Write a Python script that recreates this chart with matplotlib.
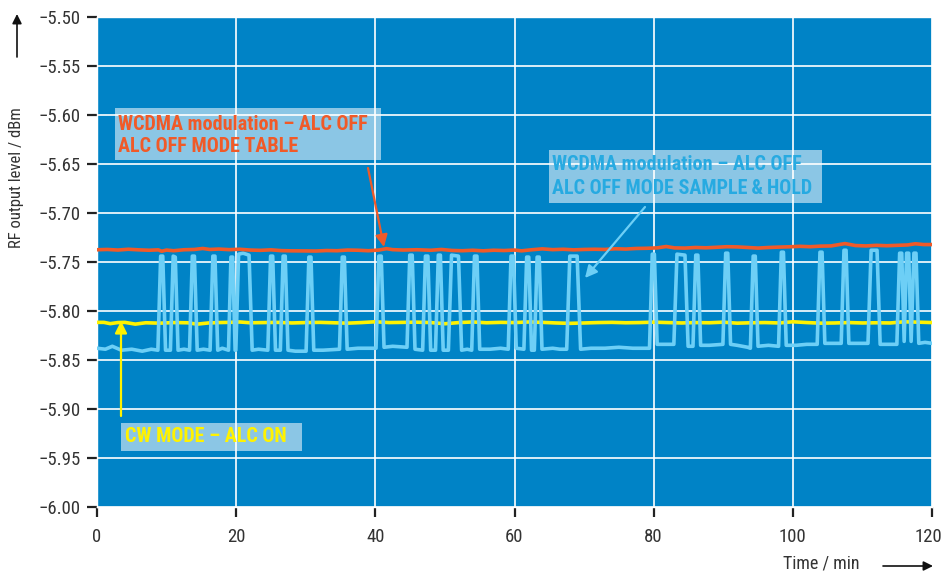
import matplotlib
matplotlib.use("Agg")
import matplotlib.pyplot as plt
from matplotlib import font_manager as fm
from matplotlib.patches import Rectangle
from matplotlib.transforms import ScaledTranslation

# ---------------- data ----------------
x_ticks = [0, 20, 40, 60, 80, 100, 120]
y_ticks = [-5.50, -5.55, -5.60, -5.65, -5.70, -5.75, -5.80, -5.85, -5.90, -5.95, -6.00]
y_ticklabels = ["\u22125.50", "\u22125.55", "\u22125.60", "\u22125.65", "\u22125.70", "\u22125.75",
                "\u22125.80", "\u22125.85", "\u22125.90", "\u22125.95", "\u22126.00"]

orange_t = [0, 1.5, 3, 4.5, 6, 7.5, 8.8, 9.3, 10, 11, 12.5, 14, 15.2, 16.2, 17.5, 19, 20.5, 22,
            23.5, 25, 26.5, 28, 30, 31.5, 33, 34.5, 36, 37.5, 39, 40.5, 41.6, 42.5, 44, 46, 48,
            49.5, 51, 52.5, 54, 55.5, 57, 58.5, 60, 61, 62.5, 64, 65.5, 67, 68.5, 70, 71.5, 73,
            74.5, 76, 77.5, 79, 80.5, 81.8, 83, 84.5, 86, 87.5, 89, 90.5, 92, 93.5, 95, 96.5,
            98, 99.5, 101, 102.5, 104, 105.5, 107.5, 109, 110.5, 112, 113.5, 115, 116.5, 117.6,
            118.8, 120]
orange_v = [-5.7375, -5.7372, -5.7378, -5.7370, -5.7376, -5.7380, -5.7376, -5.7390, -5.7378,
            -5.7385, -5.7375, -5.7372, -5.7362, -5.7372, -5.7368, -5.7374, -5.7370, -5.7378,
            -5.7381, -5.7376, -5.7384, -5.7386, -5.7387, -5.7388, -5.7383, -5.7385, -5.7378,
            -5.7380, -5.7385, -5.7378, -5.7364, -5.7374, -5.7378, -5.7375, -5.7380, -5.7372,
            -5.7382, -5.7385, -5.7380, -5.7386, -5.7380, -5.7383, -5.7378, -5.7386, -5.7375,
            -5.7366, -5.7374, -5.7370, -5.7376, -5.7372, -5.7370, -5.7372, -5.7365, -5.7368,
            -5.7362, -5.7360, -5.7356, -5.7342, -5.7356, -5.7358, -5.7352, -5.7355, -5.7350,
            -5.7344, -5.7346, -5.7352, -5.7358, -5.7352, -5.7348, -5.7345, -5.7340, -5.7344,
            -5.7338, -5.7336, -5.7312, -5.7332, -5.7336, -5.7330, -5.7334, -5.7330, -5.7326,
            -5.7314, -5.7322, -5.7322]

yellow_t = [0, 1, 1.9, 3, 4, 5.5, 7, 9, 11, 13, 14.4, 16, 17.5, 19, 20.5, 22, 24, 26, 28, 30,
            32, 34, 36, 38, 40, 42, 44, 46, 48, 50, 52, 54, 56, 58, 60, 62, 64, 66, 68, 70, 72,
            74, 76, 78, 80, 82, 84, 86, 88, 90, 92, 94, 96, 98, 100, 102, 104, 106, 108, 110,
            112, 114, 116, 118, 120]
yellow_v = [-5.8116, -5.8116, -5.8129, -5.8118, -5.8116, -5.8134, -5.8120, -5.8124, -5.8118,
            -5.8120, -5.8134, -5.8122, -5.8118, -5.8116, -5.8112, -5.8120, -5.8118, -5.8116,
            -5.8122, -5.8118, -5.8116, -5.8120, -5.8124, -5.8118, -5.8110, -5.8118, -5.8116,
            -5.8114, -5.8118, -5.8130, -5.8118, -5.8112, -5.8120, -5.8116, -5.8118, -5.8112,
            -5.8116, -5.8122, -5.8126, -5.8122, -5.8118, -5.8116, -5.8120, -5.8118, -5.8114,
            -5.8118, -5.8122, -5.8118, -5.8120, -5.8114, -5.8124, -5.8120, -5.8118, -5.8122,
            -5.8110, -5.8118, -5.8124, -5.8122, -5.8118, -5.8122, -5.8120, -5.8122, -5.8110,
            -5.8114, -5.8118]

blue_t = [0, 1.2, 2.2, 3.5, 5, 6.5, 7.8, 8.75,
          9.15, 9.45, 9.85, 10.55, 10.95, 11.25, 11.65, 12.5, 13.3, 13.7, 14.0, 14.4,
          15.3, 16.25, 16.65, 16.95, 17.35, 18.0, 18.9, 19.25, 19.5, 19.85,
          19.95, 20.35, 21.0, 21.85, 22.3, 23.2, 24.55, 24.95, 25.25, 25.65,
          26.35, 26.75, 27.05, 27.45, 28.5, 30.05, 30.45, 30.75, 31.15,
          32.5, 34.85, 35.25, 35.55, 35.95, 37.5, 40.1, 40.5, 40.85, 41.25,
          42.5, 44.55, 44.95, 45.3, 45.7, 46.8, 47.2, 47.55, 47.95,
          48.65, 49.05, 49.35, 49.75, 50.5, 50.95, 51.95, 52.4,
          53.2, 53.85, 54.25, 54.6, 55.0, 56.5, 58, 59.1, 59.5, 59.85, 60.25,
          61.35, 61.75, 62.05, 62.45, 62.85, 63.25, 63.55, 63.95,
          65.5, 66.5, 67.5, 67.95, 69.0, 69.5, 71, 73, 75, 77, 79.4, 79.8, 80.1, 80.5,
          81.5, 82.9, 83.35, 84.5, 84.95, 85.65, 86.05, 86.35, 86.75,
          88, 89.95, 90.35, 90.65, 91.05, 92, 93.5, 93.9, 94.3, 94.6, 95.0,
          96.5, 97.95, 98.35, 98.65, 99.05, 100.5, 102, 103.5, 103.9, 104.2, 104.6,
          106, 106.95, 107.35, 107.65, 108.05, 109.5, 110.8, 111.25, 112.1, 112.55,
          114, 114.95, 115.35, 115.65, 116.0, 116.35, 116.65, 117.0, 117.4, 117.7, 118.1,
          119, 120]
blue_v = [-5.838, -5.839, -5.836, -5.840, -5.839, -5.841, -5.839, -5.840,
          -5.744, -5.744, -5.840, -5.840, -5.744, -5.745, -5.840, -5.839, -5.840, -5.744, -5.744, -5.840,
          -5.839, -5.840, -5.744, -5.744, -5.840, -5.838, -5.840, -5.745, -5.745, -5.840,
          -5.840, -5.742, -5.741, -5.743, -5.840, -5.839, -5.840, -5.744, -5.744, -5.840,
          -5.840, -5.744, -5.744, -5.840, -5.841, -5.841, -5.745, -5.745, -5.840,
          -5.840, -5.839, -5.745, -5.745, -5.839, -5.838, -5.838, -5.744, -5.744, -5.837,
          -5.836, -5.837, -5.743, -5.743, -5.839, -5.840, -5.744, -5.744, -5.840,
          -5.840, -5.743, -5.743, -5.840, -5.840, -5.743, -5.744, -5.840,
          -5.839, -5.840, -5.744, -5.744, -5.839, -5.839, -5.838, -5.839, -5.744, -5.744, -5.838,
          -5.839, -5.745, -5.745, -5.840, -5.840, -5.745, -5.745, -5.839,
          -5.838, -5.839, -5.839, -5.744, -5.744, -5.839, -5.838, -5.838, -5.837, -5.838, -5.838, -5.742, -5.742, -5.834,
          -5.834, -5.834, -5.742, -5.743, -5.836, -5.836, -5.743, -5.743, -5.835,
          -5.835, -5.834, -5.741, -5.741, -5.834, -5.835, -5.837, -5.838, -5.744, -5.744, -5.836,
          -5.835, -5.836, -5.740, -5.740, -5.835, -5.835, -5.834, -5.834, -5.740, -5.740, -5.833,
          -5.833, -5.833, -5.738, -5.738, -5.833, -5.833, -5.833, -5.738, -5.738, -5.834,
          -5.834, -5.834, -5.741, -5.741, -5.831, -5.741, -5.741, -5.831, -5.741, -5.741, -5.833,
          -5.832, -5.833]

label_table = ["WCDMA modulation \u2013 ALC OFF", "ALC OFF MODE TABLE"]
label_sh = ["WCDMA modulation \u2013 ALC OFF", "ALC OFF MODE SAMPLE\u2009&\u2009HOLD"]
label_cw = "CW MODE \u2013 ALC ON"

# ---------------- style ----------------
names = {f.name for f in fm.fontManager.ttflist}
cond = next((n for n in ["Liberation Sans Narrow", "Roboto Condensed", "DejaVu Sans Condensed",
                         "Liberation Sans"] if n in names), "DejaVu Sans")
plt.rcParams["font.family"] = [cond, "DejaVu Sans"]

BG = "#0083C6"
C_OR = "#F05A28"
C_YE = "#FFF200"
C_LB = "#6DCFF6"
C_LBT = "#27AAE1"

W, H = 941, 577
fig = plt.figure(figsize=(W / 100, H / 100), dpi=100)
ax = fig.add_axes([97 / W, (H - 507) / H, 835 / W, 490 / H])
ax.set_facecolor(BG)
ax.set_xlim(0, 120)
ax.set_ylim(-6.00, -5.50)
ax.set_xticks(x_ticks)
ax.set_yticks(y_ticks)
ax.set_yticklabels(y_ticklabels)
ax.grid(True, color="white", lw=1.2)
ax.set_axisbelow(True)
for s in ax.spines.values():
    s.set_color("white")
    s.set_linewidth(1.0)
ax.tick_params(axis="both", direction="out", length=7, width=1.6, color="#222222",
               labelsize=13.5, labelcolor="#333333", pad=5)
ax.tick_params(axis="x", pad=8)
last = ax.get_xticklabels()[-1]
last.set_transform(last.get_transform() + ScaledTranslation(-4 / 100, 0, fig.dpi_scale_trans))

lkw = dict(solid_joinstyle="round", solid_capstyle="round")
ax.plot(yellow_t, yellow_v, color=C_YE, lw=2.6, zorder=3, **lkw)
ax.plot(blue_t, blue_v, color=C_LB, lw=2.6, zorder=4, **lkw)
ax.plot(orange_t, orange_v, color=C_OR, lw=2.6, zorder=5, **lkw)

# annotation boxes
def box(x0, x1, ytop, ybot):
    ax.add_patch(Rectangle((x0, ybot), x1 - x0, ytop - ybot, facecolor="white", alpha=0.55,
                           edgecolor="none", zorder=6))

def px2y(py):
    return -5.5 - (py - 17) / 980.0

def px2x(px):
    return (px - 97) / (835 / 120.0)

tkw = dict(fontsize=14.5, fontweight="bold", ha="left", va="center", zorder=7)

box(px2x(115), px2x(381), px2y(108), px2y(160))
ax.text(px2x(118), px2y(124), label_table[0], color=C_OR, **tkw)
ax.text(px2x(118), px2y(147), label_table[1], color=C_OR, **tkw)

box(px2x(549), px2x(822), px2y(150), px2y(203))
ax.text(px2x(552), px2y(165), label_sh[0], color=C_LBT, **tkw)
ax.text(px2x(552), px2y(188), label_sh[1], color=C_LBT, **tkw)

box(px2x(121), px2x(302), px2y(423), px2y(451))
ax.text(px2x(125), px2y(437), label_cw, color=C_YE, **tkw)

# arrows
akw = dict(arrowstyle="-|>", mutation_scale=18, lw=1.6, shrinkA=0, shrinkB=0)
ax.annotate("", xy=(px2x(384), px2y(247)), xytext=(px2x(368), px2y(168)),
            arrowprops=dict(color=C_OR, **akw), zorder=8)
ax.annotate("", xy=(px2x(585), px2y(278)), xytext=(px2x(645), px2y(207)),
            arrowprops=dict(color=C_LB, **akw), zorder=8)
ax.annotate("", xy=(px2x(121), px2y(321)), xytext=(px2x(121), px2y(416)),
            arrowprops=dict(color=C_YE, **akw), zorder=8)

# axis labels with arrows
fig.text(17 / W, (H - 178) / H, "RF output level / dBm", rotation=90, ha="center", va="center",
         fontsize=12, color="#333333")
fig.text(821 / W, (H - 563) / H, "Time / min", ha="center", va="center", fontsize=13,
         color="#333333")
ax.annotate("", xy=(17, H - 14), xytext=(17, H - 57), xycoords="figure pixels",
            textcoords="figure pixels",
            arrowprops=dict(arrowstyle="-|>", color="#111111", lw=1.2, mutation_scale=14,
                            shrinkA=0, shrinkB=0), annotation_clip=False)
ax.annotate("", xy=(933, H - 566), xytext=(883, H - 566), xycoords="figure pixels",
            textcoords="figure pixels",
            arrowprops=dict(arrowstyle="-|>", color="#111111", lw=1.2, mutation_scale=14,
                            shrinkA=0, shrinkB=0), annotation_clip=False)

fig.savefig("out.png", dpi=100)
